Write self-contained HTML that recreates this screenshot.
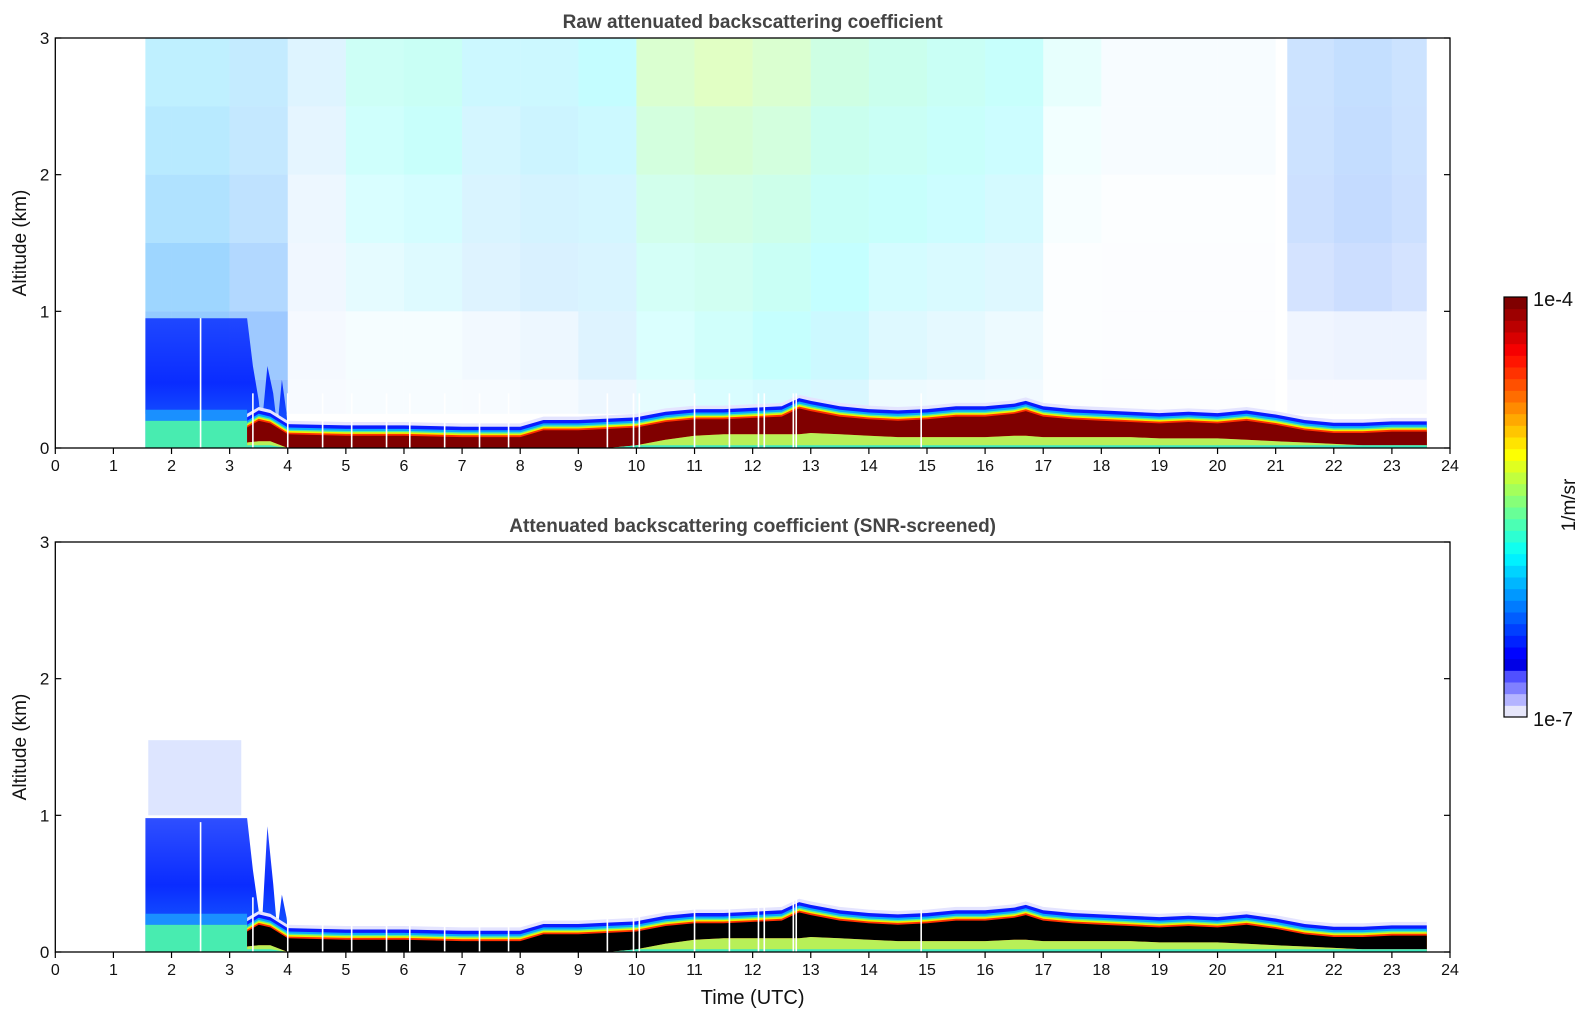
<!DOCTYPE html>
<html><head><meta charset="utf-8">
<style>
body{margin:0;background:#fff;}
svg text{font-family:"Liberation Sans","DejaVu Sans",sans-serif;}
</style></head>
<body>
<svg id="fig" xmlns="http://www.w3.org/2000/svg" width="1595" height="1020" viewBox="0 0 1595 1020">
<defs>
<linearGradient id="earlyTopGrad" x1="0" y1="1" x2="0" y2="0">
<stop offset="0" stop-color="#1a6cff"/><stop offset="0.5" stop-color="#0a2cff"/><stop offset="1" stop-color="#0a30ff" stop-opacity="0.85"/>
</linearGradient>
</defs>
<g id="plots"></g>
<g id="cbar"></g>
</svg>
<script>
// ---- data ----
const hourTicks = [0,1,2,3,4,5,6,7,8,9,10,11,12,13,14,15,16,17,18,19,20,21,22,23,24];
const altTicks = [0,1,2,3];
const layerTimes = [3.3,3.5,3.7,4,5,6,7,8,8.4,9,9.5,10,10.5,11,11.5,12,12.5,12.8,13,13.5,14,14.5,15,15.5,16,16.5,16.7,17,17.5,18,18.5,19,19.5,20,20.5,21,21.5,22,22.5,23,23.6];
const pblTop = [0.15,0.2,0.18,0.1,0.09,0.09,0.08,0.08,0.13,0.13,0.14,0.15,0.19,0.21,0.21,0.22,0.23,0.29,0.27,0.23,0.21,0.2,0.21,0.23,0.23,0.25,0.27,0.23,0.21,0.2,0.19,0.18,0.19,0.18,0.2,0.17,0.13,0.11,0.11,0.12,0.12];
const coreBottom = [0.04,0.05,0.05,0,0,0,0,0,0,0,0,0.02,0.06,0.09,0.1,0.1,0.1,0.1,0.11,0.1,0.09,0.08,0.08,0.08,0.08,0.09,0.09,0.08,0.08,0.08,0.08,0.07,0.07,0.07,0.06,0.05,0.04,0.03,0.02,0.02,0.02];
const earlyTimes = [1.55,3.0,3.3,3.4,3.5,3.55,3.65,3.75,3.82,3.9,3.98,4.0];
const earlyTopRaw = [0.95,0.95,0.95,0.6,0.35,0.15,0.6,0.4,0.15,0.5,0.25,0.15];
const earlyTopScreened = [0.98,0.98,0.98,0.6,0.3,0.15,0.92,0.5,0.15,0.42,0.25,0.18];
const noiseHours = [1,2,3,4,5,6,7,8,9,10,11,12,13,14,15,16,17,18,19,20,21,22,23];
const noiseRowBottoms = [0.25,0.5,1,1.5,2,2.5];
const noiseRowTops = [0.5,1,1.5,2,2.5,3];
const noiseR0 = [0.9,0.9,0.85,0.05,0.05,0.05,0.05,0.08,0.15,0.2,0.3,0.35,0.3,0.15,0.12,0.1,0.03,0.02,0.02,0.02,0.05,0.05,0.05];
const noiseR1 = [0.85,0.85,0.75,0.08,0.08,0.08,0.1,0.15,0.25,0.3,0.4,0.45,0.4,0.25,0.2,0.15,0.02,0.02,0.02,0.02,0.12,0.15,0.15];
const noiseR2 = [0.75,0.75,0.6,0.12,0.2,0.25,0.25,0.3,0.3,0.4,0.45,0.5,0.45,0.35,0.3,0.25,0.03,0.02,0.02,0.02,0.35,0.4,0.35];
const noiseR3 = [0.62,0.62,0.5,0.15,0.3,0.35,0.3,0.35,0.35,0.5,0.55,0.55,0.5,0.45,0.4,0.35,0.05,0.03,0.03,0.03,0.4,0.45,0.4];
const noiseR4 = [0.55,0.55,0.45,0.2,0.4,0.45,0.35,0.4,0.4,0.6,0.65,0.6,0.55,0.5,0.45,0.4,0.1,0.05,0.05,0.05,0.4,0.45,0.4];
const noiseR5 = [0.5,0.5,0.45,0.25,0.45,0.5,0.4,0.4,0.45,0.65,0.7,0.65,0.6,0.55,0.5,0.45,0.2,0.05,0.05,0.05,0.4,0.45,0.4];
const noiseHue = [0.35,0.35,0.3,0.3,0.55,0.55,0.4,0.4,0.45,0.75,0.8,0.75,0.65,0.6,0.55,0.5,0.5,0.3,0.3,0.3,0.2,0.2,0.2];
const gapTimes = [2.5,3.4,4.0,4.6,5.1,5.7,6.1,6.7,7.3,7.8,9.5,9.95,10.05,11.0,11.6,12.1,12.2,12.7,12.75,14.9];
const dataStart = 1.55, dataEnd = 23.6, noiseStart21 = 21.2;

// ---- helpers ----
const NS = "http://www.w3.org/2000/svg";
const X0 = 55.3, X1 = 1450;
function xs(t){ return X0 + (X1 - X0) * t / 24; }
function mkY(bottom){ return v => bottom - v * (410 / 3); }
function el(tag, attrs, parent){
  const e = document.createElementNS(NS, tag);
  for (const k in attrs) e.setAttribute(k, attrs[k]);
  parent.appendChild(e); return e;
}
function jet(v){
  v = Math.max(0, Math.min(1, v));
  const r = Math.max(0, Math.min(1, 1.5 - Math.abs(4*v - 3)));
  const g = Math.max(0, Math.min(1, 1.5 - Math.abs(4*v - 2)));
  const b = Math.max(0, Math.min(1, 1.5 - Math.abs(4*v - 1)));
  return `rgb(${Math.round(r*255)},${Math.round(g*255)},${Math.round(b*255)})`;
}
function bandPath(ys, times, lo, hi){
  let d = "";
  times.forEach((t,i)=>{ d += (i ? "L" : "M") + xs(t).toFixed(1) + "," + ys(hi[i]).toFixed(1); });
  for (let i = times.length-1; i >= 0; i--) d += "L" + xs(times[i]).toFixed(1) + "," + ys(lo[i]).toFixed(1);
  return d + "Z";
}
const plots = document.getElementById("plots");

function drawAxes(g, ys, top, bottom, title, name){
  const titleEl = el("text", {x:(X0+X1)/2, y: top-10, "text-anchor":"middle", "font-size":"19", "font-weight":"bold", fill:"#444"}, g);
  titleEl.textContent = title;
  
  
  const frame = el("rect", {x:X0, y:top, width:X1-X0, height:bottom-top, fill:"none", stroke:"#000", "stroke-width":"1.3"}, g);
  
  
  hourTicks.forEach(h=>{
    el("line", {x1:xs(h), x2:xs(h), y1:bottom, y2:bottom+6, stroke:"#000", "stroke-width":"1.2"}, g);
    const tx = el("text", {x:xs(h), y:bottom+23, "text-anchor":"middle", "font-size":"16", fill:"#111"}, g);
    tx.textContent = h;
    
    
  });
  altTicks.forEach(a=>{
    el("line", {x1:X0, x2:X0+6, y1:ys(a), y2:ys(a), stroke:"#000", "stroke-width":"1.2"}, g);
    el("line", {x1:X1-6, x2:X1, y1:ys(a), y2:ys(a), stroke:"#000", "stroke-width":"1.2"}, g);
    const ty = el("text", {x:X0-6, y:ys(a)+6, "text-anchor":"end", "font-size":"17", fill:"#111"}, g);
    ty.textContent = a;
    
    
  });
  const yl = el("text", {x:0, y:0, transform:`translate(26,${(top+bottom)/2}) rotate(-90)`, "text-anchor":"middle", "font-size":"19", fill:"#111"}, g);
  yl.textContent = "Altitude (km)";
  
  
}

function drawLayers(g, ys, screened){
  const add = off => pblTop.map(v => v + off);
  const zero = pblTop.map(()=>0);
  const layers = [
    [0.1, "#e4e4ff", "lavender-halo"],
    [0.075, "#0a1cff", "blue-layer"],
    [0.05, "#0aa8ff", "cyan-layer"],
    [0.035, "#50f0a0", "green-layer"],
    [0.025, "#f0f000", "yellow-layer"],
    [0.013, "#ff3000", "red-layer"]
  ];
  layers.forEach(L=>{
    const p = el("path", {d: bandPath(ys, layerTimes, zero, add(L[0])), fill: L[1]}, g);
    
    
  });
  const core = el("path", {d: bandPath(ys, layerTimes, coreBottom, pblTop), fill: screened ? "#000" : "#800000"}, g);
  
  
  const below = el("path", {d: bandPath(ys, layerTimes, zero, coreBottom), fill: "#b8f058"}, g);
  
  
  const surf = el("path", {d: bandPath(ys, layerTimes, zero, coreBottom.map(v=>Math.min(v,0.02))), fill: "#40e8c0"}, g);
  
  
}

function drawEarly(g, ys, tops){
  const zero = tops.map(()=>0);
  const blue = el("path", {d: bandPath(ys, earlyTimes, zero, tops), fill: "url(#earlyTopGrad)"}, g);
  
  
  const near = el("rect", {x: xs(dataStart), y: ys(0.2), width: xs(3.3)-xs(dataStart), height: ys(0)-ys(0.2), fill: "#48ecb0"}, g);
  
  
  const near2 = el("rect", {x: xs(dataStart), y: ys(0.28), width: xs(3.3)-xs(dataStart), height: ys(0.2)-ys(0.28), fill: "#1a90ff"}, g);
  
  
}

function drawNoise(g, ys){
  const rows = [noiseR0, noiseR1, noiseR2, noiseR3, noiseR4, noiseR5];
  noiseHours.forEach((h, i)=>{
    let t0 = h, t1 = h + 1;
    if (h === 1) t0 = dataStart;
    if (h === 21) t0 = noiseStart21;
    if (h === 23) t1 = dataEnd;
    rows.forEach((row, r)=>{
      const d = row[i];
      if (d <= 0) return;
      const hue = noiseHue[i] * (0.55 + 0.09 * r);
      const c = el("rect", {x: xs(t0), y: ys(noiseRowTops[r]), width: xs(t1)-xs(t0), height: ys(noiseRowBottoms[r]) - ys(noiseRowTops[r]), fill: jet(0.14 + hue*0.5), "fill-opacity": (d*0.5).toFixed(2)}, g);
      
      
    });
  });
}

function drawGaps(g, ys, topV){
  gapTimes.forEach(t=>{
    const top = t < 3.3 ? 0.95 : topV;
    const l = el("line", {x1: xs(t), x2: xs(t), y1: ys(top), y2: ys(0), stroke: "#fff", "stroke-width": "1.6"}, g);
    
    
  });
}

// ---- top panel ----
const gTop = el("g", {}, plots);


const yT = mkY(448);
drawNoise(gTop, yT);
drawEarly(gTop, yT, earlyTopRaw);
drawLayers(gTop, yT, false);
drawGaps(gTop, yT, 0.4);
drawAxes(gTop, yT, 38, 448, "Raw attenuated backscattering coefficient", "top-panel");

// ---- bottom panel ----
const gBot = el("g", {}, plots);


const yB = mkY(952);
const speck = el("rect", {x: xs(1.6), y: yB(1.55), width: xs(3.2)-xs(1.6), height: yB(1.0)-yB(1.55), fill: "#1a50ff", "fill-opacity": "0.15"}, gBot);


drawEarly(gBot, yB, earlyTopScreened);
drawLayers(gBot, yB, true);
drawGaps(gBot, yB, 0.4);
drawAxes(gBot, yB, 542, 952, "Attenuated backscattering coefficient (SNR-screened)", "bottom-panel");
const xl = el("text", {x:(X0+X1)/2, y:1004, "text-anchor":"middle", "font-size":"20", fill:"#111"}, gBot);
xl.textContent = "Time (UTC)";



// ---- colorbar ----
const cb = document.getElementById("cbar");
const CB_T = 297, CB_B = 717, CB_L = 1504, CB_R = 1527;
const nSteps = 36;
for (let i = 0; i < nSteps; i++){
  let fill;
  if (i < 4) fill = ["#e6e6fa","#b4b4ff","#8080ff","#5050ff"][i];
  else fill = jet(0.1 + (i-4)/(nSteps-5) * 0.9);
  const h = (CB_B - CB_T) / nSteps;
  const s = el("rect", {x: CB_L, y: CB_B - (i+1)*h, width: CB_R-CB_L, height: h+0.5, fill: fill}, cb);
  
  
}
el("rect", {x: CB_L, y: CB_T, width: CB_R-CB_L, height: CB_B-CB_T, fill: "none", stroke: "#000", "stroke-width": "1.2"}, cb);
const c1 = el("text", {x: 1533, y: 306, "font-size": "20", fill: "#111"}, cb);
c1.textContent = "1e-4";


const c2 = el("text", {x: 1533, y: 726, "font-size": "20", fill: "#111"}, cb);
c2.textContent = "1e-7";


const c3 = el("text", {x: 0, y: 0, transform: "translate(1575,505) rotate(-90)", "text-anchor": "middle", "font-size": "19", fill: "#111"}, cb);
c3.textContent = "1/m/sr";


</script>
</body></html>
